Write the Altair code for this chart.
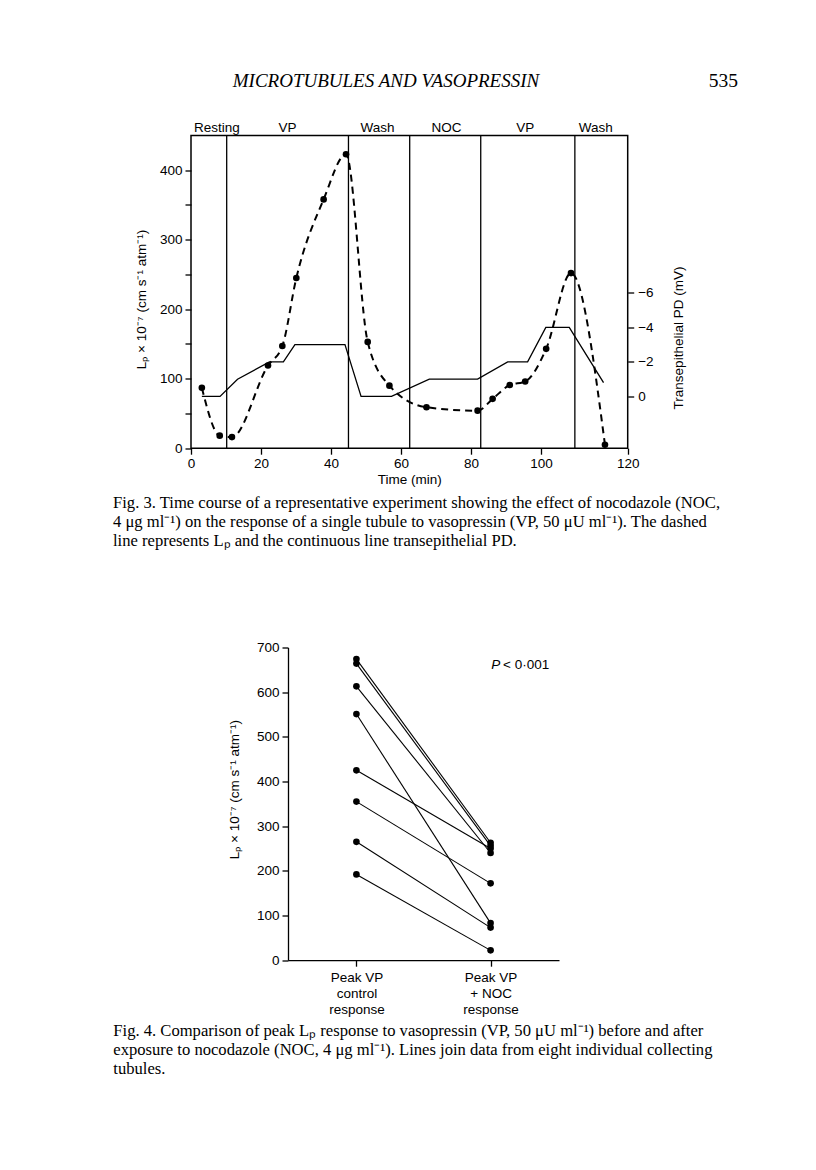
import altair as alt
import pandas as pd

SANS = "Liberation Sans"
SERIF = "Liberation Serif"

# ---------------- Fig. 3 data ----------------
lp_time = [3.1, 8.2, 11.7, 22.0, 26.1, 30.1, 37.9, 44.3, 50.5, 56.7, 67.3, 81.9, 86.2, 91.1, 95.5, 101.5, 108.6, 118.3]
lp_value = [87, 18, 16, 119, 147, 245, 358, 423, 153, 90, 59, 54, 71, 91, 96, 143, 252, 5]
pd_time = [3.1, 8.3, 13.3, 22.4, 26.4, 29.7, 44.0, 48.6, 57.3, 68.1, 81.9, 90.5, 96.2, 101.4, 108.1, 117.9]
pd_value = [0, 0, -1, -2, -2, -3, -3, 0, 0, -1, -1, -2, -2, -4, -4, -0.8]
phase_bounds = [10.2, 45.0, 62.5, 82.8, 109.7]
phase_names = ["Resting", "VP", "Wash", "NOC", "VP", "Wash"]
phase_mid = [7.4, 27.6, 53.3, 73.0, 95.5, 115.7]
time_ticks = [0, 20, 40, 60, 80, 100, 124.8]
lp_ticks = [0, 50, 100, 150, 200, 250, 300, 350, 400]
pd_ticks = [0, -2, -4, -6]

# ---------------- Fig. 4 data ----------------
conditions = ["Peak VP|control|response", "Peak VP|+ NOC|response"]
control_peak = [674, 664, 613, 551, 425, 355, 265, 192]
noc_peak = [263, 256, 240, 83, 250, 172, 73, 22]
fig4_ticks = [0, 100, 200, 300, 400, 500, 600, 700]

header_title = "MICROTUBULES AND VASOPRESSIN"
page_number = "535"
caption3 = [
    "Fig. 3. Time course of a representative experiment showing the effect of nocodazole (NOC,",
    "4 \u03bcg ml\u207b\u00b9) on the response of a single tubule to vasopressin (VP, 50 \u03bcU ml\u207b\u00b9). The dashed",
    "line represents L\u209a and the continuous line transepithelial PD.",
]
caption4 = [
    "Fig. 4. Comparison of peak L\u209a response to vasopressin (VP, 50 \u03bcU ml\u207b\u00b9) before and after",
    "exposure to nocodazole (NOC, 4 \u03bcg ml\u207b\u00b9). Lines join data from eight individual collecting",
    "tubules.",
]
lp_title = "L\u209a \u00d7 10\u207b\u2077 (cm s\u207b\u00b9 atm\u207b\u00b9)"

# ---------------- tables ----------------
df_lp = pd.DataFrame({"t": lp_time, "lp": lp_value})
df_pd = pd.DataFrame({"t": pd_time, "pd": pd_value})
df_bounds = pd.DataFrame({"t": phase_bounds})
df_phase = pd.DataFrame({"t": phase_mid, "name": phase_names})
rows = []
for i, (a, b) in enumerate(zip(control_peak, noc_peak)):
    rows.append({"tubule": i, "cond": conditions[0], "v": a})
    rows.append({"tubule": i, "cond": conditions[1], "v": b})
df4 = pd.DataFrame(rows)
one = alt.Data(values=[{}])

W1, H1 = 436.7, 312.7
W2, H2 = 271, 312.7
FS = 13.5
CAP_FS = 16.6

xs = alt.Scale(domain=[0, 124.8], nice=False, zero=False)
x_axis = alt.Axis(values=time_ticks, labelExpr="datum.value > 110 ? '120' : datum.label",
                  title="Time (min)", domain=False, tickSize=6, labelPadding=2, titlePadding=3,
                  labelFlush=False)
X = alt.X("t:Q", scale=xs, axis=x_axis)

rules = alt.Chart(df_bounds).mark_rule(color="black", strokeWidth=1.3).encode(x=X)

lp_line = alt.Chart(df_lp).mark_line(color="black", strokeWidth=2, strokeDash=[7, 5],
                                     interpolate="monotone").encode(
    x=X,
    y=alt.Y("lp:Q", scale=alt.Scale(domain=[0, 450], nice=False),
            axis=alt.Axis(orient="left", values=lp_ticks,
                          labelExpr="datum.value % 100 == 0 ? datum.label : ''",
                          title=lp_title, titleX=-50, titleY=163.5, titleAngle=270,
                          titleAlign="center", titleBaseline="middle",
                          domain=False, tickSize=6, labelPadding=3, labelFlush=False)),
)
lp_pts = alt.Chart(df_lp).mark_circle(color="black", size=44, opacity=1).encode(
    x=X, y=alt.Y("lp:Q", scale=alt.Scale(domain=[0, 450], nice=False), axis=None)
)
pd_line = alt.Chart(df_pd).mark_line(color="black", strokeWidth=1.3).encode(
    x=X,
    y=alt.Y("pd:Q", scale=alt.Scale(domain=[-15.12, 3.0], nice=False, zero=False, reverse=True),
            axis=alt.Axis(orient="right", values=pd_ticks, title="Transepithelial PD (mV)",
                          titleX=51, titleY=202, titleAngle=270, titleAlign="center",
                          titleBaseline="middle", domain=False, tickSize=6, labelPadding=4,
                          labelFlush=False)),
)
phase_text = alt.Chart(df_phase).mark_text(font=SANS, fontSize=FS, baseline="middle",
                                           color="black").encode(
    x=X, y=alt.value(-8), text="name:N"
)
header = alt.Chart(one).mark_text(font=SERIF, fontSize=19, fontStyle="italic", baseline="top",
                                  align="center", text=header_title, color="black").encode(
    x=alt.value(195), y=alt.value(-64))
pagenum = alt.Chart(one).mark_text(font=SERIF, fontSize=19.5, baseline="top", align="right",
                                   text=page_number, color="black").encode(
    x=alt.value(547), y=alt.value(-64))
cap3 = alt.Chart(one).mark_text(font=SERIF, fontSize=CAP_FS, baseline="top", align="left",
                                lineHeight=19, text=caption3, color="black").encode(
    x=alt.value(-78), y=alt.value(359))

chart1 = alt.layer(rules, lp_line, lp_pts, pd_line, phase_text, header, pagenum, cap3).resolve_scale(
    y="independent"
).properties(width=W1, height=H1, view=alt.ViewBackground(stroke="black", strokeWidth=1.5))

# ---------------- Fig. 4 ----------------
X4 = alt.X("cond:N", scale=alt.Scale(type="point", domain=conditions, padding=0.51),
           axis=alt.Axis(labelExpr="split(datum.label, '|')", labelAngle=0, title=None,
                         tickSize=6, labelLineHeight=16, labelPadding=4, labelBaseline="top"))
Y4 = alt.Y("v:Q", scale=alt.Scale(domain=[0, 700], nice=False),
           axis=alt.Axis(values=fig4_ticks, title=lp_title, titleX=-53.7, titleY=141.6,
                         titleAngle=270, titleAlign="center", titleBaseline="middle",
                         tickSize=6, labelPadding=3, labelFlush=False))
lines4 = alt.Chart(df4).mark_line(color="black", strokeWidth=1.1).encode(x=X4, y=Y4, detail="tubule:N")
pts4 = alt.Chart(df4).mark_circle(color="black", size=44, opacity=1).encode(x=X4, y=Y4)
p_it = alt.Chart(one).mark_text(font=SANS, fontSize=FS, fontStyle="italic", align="left",
                                baseline="middle", text="P", color="black").encode(
    x=alt.value(203.3), y=alt.value(17.6))
p_rest = alt.Chart(one).mark_text(font=SANS, fontSize=FS, align="left", baseline="middle",
                                  text="< 0\u00b7001", color="black").encode(
    x=alt.value(215), y=alt.value(17.6))
cap4 = alt.Chart(one).mark_text(font=SERIF, fontSize=CAP_FS, baseline="top", align="left",
                                lineHeight=19, text=caption4, color="black").encode(
    x=alt.value(-174.7), y=alt.value(375))
chart2 = alt.layer(lines4, pts4, p_it, p_rest, cap4).properties(width=W2, height=H2)

spacer = alt.Chart(one).mark_point(opacity=0).encode(x=alt.value(0), y=alt.value(0)).properties(
    width=96.7, height=H2)
row2 = alt.hconcat(spacer, chart2, spacing=0, bounds="flush")

chart = alt.vconcat(chart1, row2, spacing=199, bounds="flush").properties(
    padding={"left": 104, "top": 61.5, "right": 10, "bottom": 10}
).configure_view(stroke=None).configure_axis(
    labelFont=SANS, titleFont=SANS, labelFontSize=FS, titleFontSize=FS, titleFontWeight="normal",
    labelColor="black", titleColor="black", tickColor="black", domainColor="black",
    tickWidth=1.3, domainWidth=1.3, grid=False
)

chart.save("out.html", embed_options={"renderer": "svg", "actions": False})
